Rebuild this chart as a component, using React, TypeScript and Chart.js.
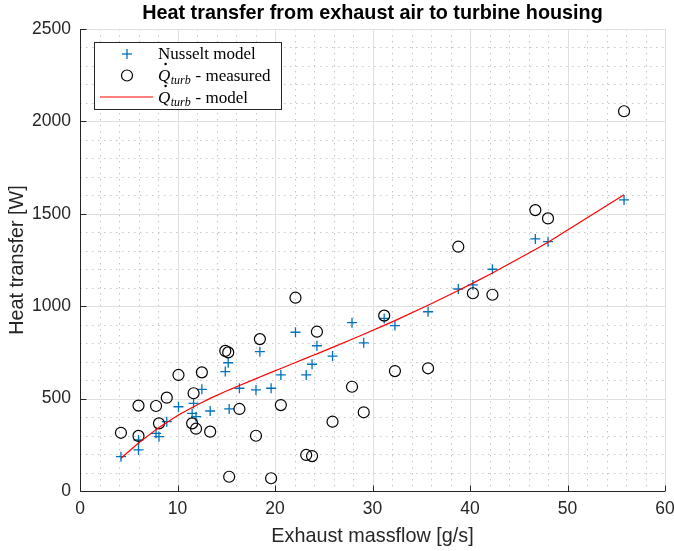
import { useEffect, useRef } from "react";
import { Chart, registerables } from "chart.js";

Chart.register(...registerables);

// Exhaust massflow [g/s] for each operating point (sorted ascending)
const massflow = [
  4.2, 6.0, 6.0, 7.8, 8.1, 8.9, 10.1, 11.5, 11.65, 11.9, 12.5, 13.35,
  14.9, 15.2, 15.3, 16.35, 18.05, 18.45, 19.6, 20.6, 22.1, 23.2, 23.8, 24.3,
  25.9, 27.9, 29.1, 31.2, 32.3, 35.7, 38.8, 40.3, 42.3, 46.7, 48.0, 55.8,
];

// Heat transfer predicted by the Nusselt correlation [W]
const nusseltModel = [
  186, 276, 222, 312, 294, 375, 456, 420, 474, 402, 550, 433,
  646, 694, 444, 556, 547, 754, 556, 628, 859, 628, 686, 786,
  730, 911, 802, 934, 895, 970, 1093, 1115, 1200, 1364, 1349, 1575,
];

// Measured turbine housing heat flow [W]
const qTurbMeasured = [
  315, 462, 298, 460, 366, 505, 628, 366, 529, 337, 642, 321,
  758, 750, 77, 444, 299, 822, 69, 465, 1046, 195, 189, 862,
  375, 564, 426, 949, 649, 664, 1322, 1070, 1062, 1520, 1475, 2055,
];

// Modelled turbine housing heat flow [W]
const qTurbModel = [
  177, 260, 260, 332, 343, 371, 411, 452, 456, 463, 479, 501,
  538, 545, 547, 571, 608, 617, 642, 663, 695, 719, 732, 742,
  777, 821, 848, 896, 922, 1005, 1085, 1125, 1180, 1307, 1346, 1603,
];

const xTicks = [0, 10, 20, 30, 40, 50, 60];
const yTicks = [0, 500, 1000, 1500, 2000, 2500];
const xMinorStep = 2;
const yMinorStep = 100;

const titleText = "Heat transfer from exhaust air to turbine housing";
const xTitle = "Exhaust massflow [g/s]";
const yTitle = "Heat transfer [W]";
const legendLabels = ["Nusselt model", " - measured", " - model"];

const AXIS_COLOR = "#262626";
const BLUE = "#0072BD";
const SANS = '"Liberation Sans", Arial, sans-serif';
const SERIF = '"Liberation Serif", "Times New Roman", serif';

function line(ctx: CanvasRenderingContext2D, x1: number, y1: number, x2: number, y2: number) {
  ctx.beginPath();
  ctx.moveTo(x1, y1);
  ctx.lineTo(x2, y2);
  ctx.stroke();
}

function drawQdotLabel(ctx: CanvasRenderingContext2D, x: number, baseline: number, rest: string) {
  ctx.fillStyle = "#000";
  ctx.textAlign = "left";
  ctx.textBaseline = "alphabetic";
  ctx.font = `italic 17px ${SERIF}`;
  ctx.fillText("Q", x, baseline);
  const wQ = ctx.measureText("Q").width;
  ctx.beginPath();
  ctx.arc(x + wQ * 0.62, baseline - 16.5, 1.3, 0, Math.PI * 2);
  ctx.fill();
  const sx = x + wQ + 0.5;
  ctx.font = `italic 12px ${SERIF}`;
  ctx.fillText("turb", sx, baseline + 3.5);
  const wT = ctx.measureText("turb").width;
  ctx.font = `17px ${SERIF}`;
  ctx.fillText(rest, sx + wT + 0.5, baseline);
}

const decor = {
  id: "decor",
  beforeDatasetsDraw(chart: any) {
    const { ctx, chartArea: a, scales } = chart;
    const xs = scales.x;
    const ys = scales.y;
    const xMin = xTicks[0];
    const xMax = xTicks[xTicks.length - 1];
    const yMin = yTicks[0];
    const yMax = yTicks[yTicks.length - 1];
    ctx.save();
    ctx.lineWidth = 1;
    // minor dotted grid
    ctx.strokeStyle = "#c6c6c6";
    ctx.setLineDash([1.5, 4.5]);
    for (let v = xMin; v <= xMax; v += xMinorStep) {
      if (xTicks.includes(v)) continue;
      const px = Math.round(xs.getPixelForValue(v)) + 0.5;
      line(ctx, px, a.top, px, a.bottom);
    }
    for (let v = yMin; v <= yMax; v += yMinorStep) {
      if (yTicks.includes(v)) continue;
      const py = Math.round(ys.getPixelForValue(v)) + 0.5;
      line(ctx, a.left, py, a.right, py);
    }
    // major solid grid
    ctx.setLineDash([]);
    ctx.strokeStyle = "#dfdfdf";
    for (const v of xTicks) {
      const px = Math.round(xs.getPixelForValue(v)) + 0.5;
      line(ctx, px, a.top, px, a.bottom);
    }
    for (const v of yTicks) {
      const py = Math.round(ys.getPixelForValue(v)) + 0.5;
      line(ctx, a.left, py, a.right, py);
    }
    ctx.restore();
  },
  afterDatasetsDraw(chart: any) {
    const { ctx, chartArea: a, scales } = chart;
    const xs = scales.x;
    const ys = scales.y;
    ctx.save();
    // axis lines with inward ticks
    ctx.strokeStyle = AXIS_COLOR;
    ctx.lineWidth = 1;
    const left = Math.round(a.left) + 0.5;
    const bottom = Math.round(a.bottom) + 0.5;
    line(ctx, left, a.top, left, bottom);
    line(ctx, left, bottom, a.right, bottom);
    for (const v of xTicks) {
      const px = Math.round(xs.getPixelForValue(v)) + 0.5;
      line(ctx, px, bottom, px, bottom - 6);
    }
    for (const v of yTicks) {
      const py = Math.round(ys.getPixelForValue(v)) + 0.5;
      line(ctx, left, py, left + 6, py);
    }

    // legend
    const bx = 94.5, by = 42.5, bw = 187, bh = 67;
    ctx.fillStyle = "#fff";
    ctx.fillRect(bx, by, bw, bh);
    ctx.strokeStyle = AXIS_COLOR;
    ctx.strokeRect(bx, by, bw, bh);

    const mx = 127;
    const tx = 158;
    // Nusselt cross
    ctx.strokeStyle = BLUE;
    ctx.lineWidth = 1.3;
    line(ctx, mx - 5, 54, mx + 5, 54);
    line(ctx, mx, 49, mx, 59);
    ctx.fillStyle = "#000";
    ctx.font = `17px ${SERIF}`;
    ctx.textAlign = "left";
    ctx.textBaseline = "alphabetic";
    ctx.fillText(legendLabels[0], tx, 58.5);
    // measured circle
    ctx.strokeStyle = "#000";
    ctx.lineWidth = 1.2;
    ctx.beginPath();
    ctx.arc(mx, 75.5, 5.5, 0, Math.PI * 2);
    ctx.stroke();
    drawQdotLabel(ctx, tx, 80.5, legendLabels[1]);
    // model line
    ctx.strokeStyle = "#ff0000";
    ctx.lineWidth = 1.2;
    line(ctx, 100, 97, 153, 97);
    drawQdotLabel(ctx, tx, 102.5, legendLabels[2]);
    ctx.restore();
  },
  afterDraw(chart: any) {
    const { ctx, chartArea: a } = chart;
    const cx = (a.left + a.right) / 2;
    const cy = (a.top + a.bottom) / 2;
    ctx.save();
    ctx.textAlign = "center";
    ctx.textBaseline = "middle";
    ctx.fillStyle = "#000";
    ctx.font = `bold 19.8px ${SANS}`;
    ctx.fillText(titleText, cx, 14);
    ctx.fillStyle = AXIS_COLOR;
    ctx.font = `19.8px ${SANS}`;
    ctx.fillText(xTitle, cx, 537);
    ctx.translate(18, cy);
    ctx.rotate(-Math.PI / 2);
    ctx.fillText(yTitle, 0, 0);
    ctx.restore();
  },
};

export default function App() {
  const canvasRef = useRef<HTMLCanvasElement | null>(null);

  useEffect(() => {
    const canvas = canvasRef.current;
    if (!canvas) return;
    const pts = (ys: number[]) => massflow.map((x, i) => ({ x, y: ys[i] }));
    const chart = new Chart(canvas, {
      type: "scatter",
      data: {
        datasets: [
          {
            label: "Nusselt model",
            data: pts(nusseltModel),
            pointStyle: "cross",
            pointRadius: 5,
            pointHoverRadius: 5,
            borderColor: BLUE,
            backgroundColor: BLUE,
            borderWidth: 1.3,
            showLine: false,
            order: 3,
          },
          {
            label: "Q_turb - measured",
            data: pts(qTurbMeasured),
            pointStyle: "circle",
            pointRadius: 5.5,
            pointHoverRadius: 5.5,
            borderColor: "#000",
            backgroundColor: "rgba(0,0,0,0)",
            borderWidth: 1.2,
            showLine: false,
            order: 2,
          },
          {
            label: "Q_turb - model",
            data: pts(qTurbModel),
            pointRadius: 0,
            borderColor: "#ff0000",
            backgroundColor: "#ff0000",
            borderWidth: 1.2,
            showLine: true,
            tension: 0,
            order: 1,
          },
        ],
      },
      options: {
        responsive: false,
        animation: false,
        events: [],
        layout: { padding: { top: 29, right: 9, left: 0, bottom: 0 } },
        plugins: {
          legend: { display: false },
          title: { display: false },
          tooltip: { enabled: false },
        },
        scales: {
          x: {
            type: "linear",
            min: xTicks[0],
            max: xTicks[xTicks.length - 1],
            afterFit: (s: any) => {
              s.height = 60;
              s.paddingLeft = 0;
              s.paddingRight = 0;
            },
            afterBuildTicks: (s: any) => {
              s.ticks = xTicks.map((v) => ({ value: v }));
            },
            ticks: {
              color: AXIS_COLOR,
              font: { family: SANS, size: 17.5 },
              padding: 8,
              maxRotation: 0,
              autoSkip: false,
              callback: (v: any) => String(v),
            },
            grid: { display: false, drawTicks: false },
            border: { display: false },
          },
          y: {
            type: "linear",
            min: yTicks[0],
            max: yTicks[yTicks.length - 1],
            afterFit: (s: any) => {
              s.width = 80;
              s.paddingTop = 0;
              s.paddingBottom = 0;
            },
            afterBuildTicks: (s: any) => {
              s.ticks = yTicks.map((v) => ({ value: v }));
            },
            ticks: {
              color: AXIS_COLOR,
              font: { family: SANS, size: 17.5 },
              padding: 9,
              autoSkip: false,
              callback: (v: any) => String(v),
            },
            grid: { display: false, drawTicks: false },
            border: { display: false },
          },
        },
      },
      plugins: [decor],
    });
    return () => chart.destroy();
  }, []);

  return (
    <div style={{ position: "absolute", left: 0, top: 0, width: 674, height: 551, background: "#fff" }}>
      <canvas ref={canvasRef} width={674} height={551} style={{ display: "block" }} />
    </div>
  );
}
